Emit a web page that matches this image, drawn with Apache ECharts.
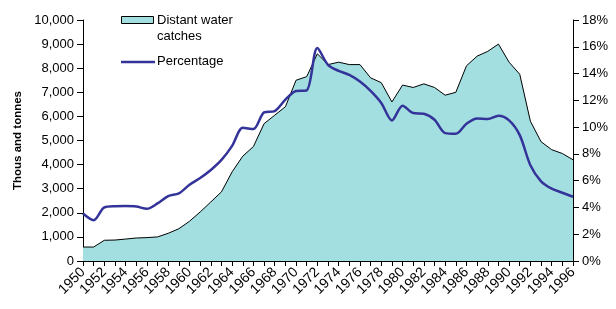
<!DOCTYPE html>
<html>
<head>
<meta charset="utf-8">
<script src="https://cdn.jsdelivr.net/npm/echarts@6/dist/echarts.min.js"></script>
<style>
  html, body { margin: 0; padding: 0; background: #fff; }
  #chart { width: 616px; height: 309px; }
</style>
</head>
<body>
<div id="chart"></div>
<script>
// 年份 1950-1996
const years = []
for (let y = 1950; y <= 1996; y++) years.push(String(y))

// 远洋捕捞量（千吨）
const catches = [
  580, 580, 860, 870, 910, 955, 970, 1000, 1150, 1340,
  1650, 2035, 2450, 2870, 3700, 4350, 4750, 5700, 6050, 6400,
  7500, 7650, 8600, 8150, 8250, 8150, 8150, 7600, 7400, 6600,
  7300, 7200, 7350, 7200, 6880, 7000, 8100, 8500, 8700, 9000,
  8250, 7750, 5800, 4950, 4620, 4460, 4200
]

// 占比（%）
const percentage = [
  3.55, 3.05, 4.0, 4.09, 4.1, 4.07, 3.9, 4.3, 4.85, 5.05,
  5.7, 6.2, 6.8, 7.55, 8.6, 9.95, 9.85, 11.1, 11.2, 12.05,
  12.7, 12.75, 15.9, 14.65, 14.2, 13.9, 13.4, 12.7, 11.8, 10.5,
  11.6, 11.05, 11.0, 10.55, 9.55, 9.5, 10.25, 10.65, 10.6, 10.85,
  10.5, 9.4, 7.15, 5.95, 5.4, 5.1, 4.8
]

const leftTicks = { min: 0, max: 10000, interval: 1000 }
const rightTicks = { min: 0, max: 18, interval: 2 }

const font = 'Liberation Sans, Arial, sans-serif'
const chart = echarts.init(document.getElementById('chart'))

const option = {
  animation: false,
  grid: { left: 83, right: 43, top: 20, bottom: 48 },
  xAxis: {
    type: 'category',
    data: years,
    boundaryGap: false,
    axisLine: { lineStyle: { color: '#000', width: 1 } },
    axisTick: { interval: 0, length: 5, lineStyle: { color: '#000' } },
    axisLabel: {
      interval: 1,
      rotate: 45,
      margin: 9,
      color: '#000',
      fontFamily: font,
      fontSize: 14
    },
    splitLine: { show: false }
  },
  yAxis: [
    {
      type: 'value',
      ...leftTicks,
      name: 'Thous and tonnes',
      nameLocation: 'middle',
      nameGap: 58,
      nameTextStyle: { color: '#000', fontFamily: font, fontSize: 11.5, fontWeight: 'bold' },
      axisLine: { show: true, lineStyle: { color: '#000' } },
      axisTick: { show: true, length: 6, lineStyle: { color: '#000' } },
      axisLabel: {
        color: '#000',
        fontFamily: font,
        fontSize: 13,
        margin: 9,
        formatter: v => v.toLocaleString('en-US')
      },
      splitLine: { show: false }
    },
    {
      type: 'value',
      ...rightTicks,
      position: 'right',
      axisLine: { show: true, lineStyle: { color: '#000' } },
      axisTick: { show: true, length: 6, lineStyle: { color: '#000' } },
      axisLabel: {
        color: '#000',
        fontFamily: font,
        fontSize: 13,
        margin: 9,
        formatter: '{value}%'
      },
      splitLine: { show: false }
    }
  ],
  series: [
    {
      name: 'Distant water catches',
      type: 'line',
      yAxisIndex: 0,
      data: catches,
      symbol: 'none',
      lineStyle: { color: '#000', width: 1 },
      areaStyle: { color: '#a3dfe0', opacity: 1 },
      z: 1
    },
    {
      name: 'Percentage',
      type: 'line',
      yAxisIndex: 1,
      data: percentage,
      symbol: 'none',
      smooth: 0.3,
      lineStyle: { color: '#333399', width: 2.5 },
      z: 2
    }
  ],
  // 图例
  graphic: [
    { type: 'rect', shape: { x: 121.5, y: 16.5, width: 32, height: 7 }, style: { fill: '#a3dfe0', stroke: '#000', lineWidth: 1 } },
    { type: 'text', x: 157, y: 12, style: { text: 'Distant water\ncatches', fill: '#000', font: '13px ' + font, lineHeight: 16 } },
    { type: 'line', shape: { x1: 121, y1: 62, x2: 155, y2: 62 }, style: { stroke: '#333399', lineWidth: 2.5 } },
    { type: 'text', x: 157, y: 55, style: { text: 'Percentage', fill: '#000', font: '13px ' + font } }
  ]
}

chart.setOption(option)
</script>
</body>
</html>
